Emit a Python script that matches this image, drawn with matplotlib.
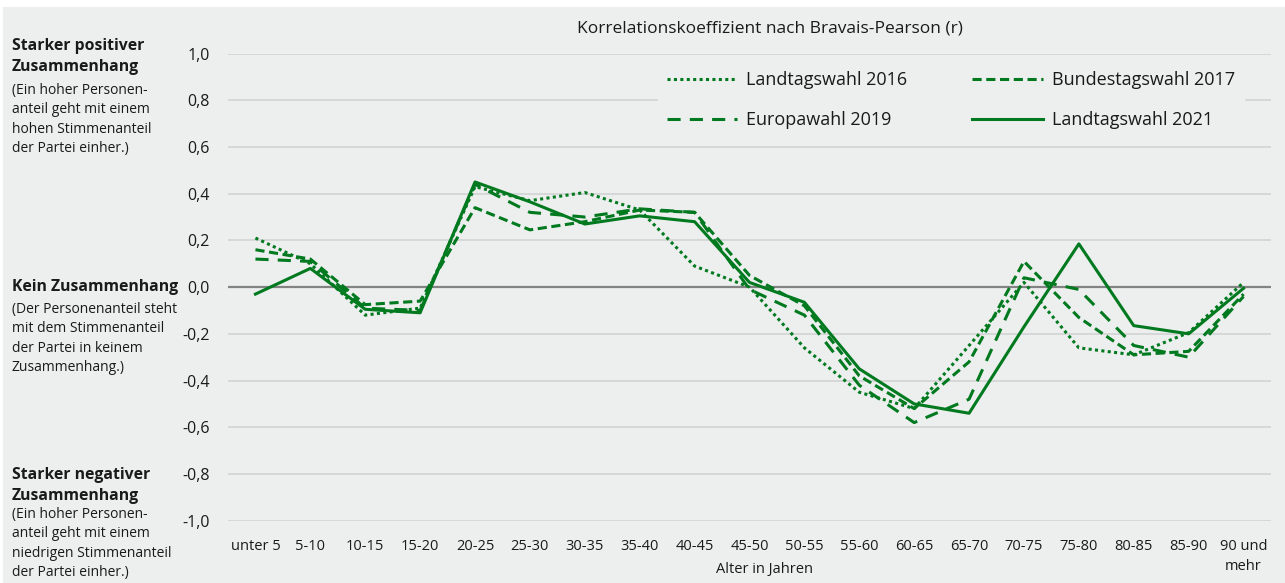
import matplotlib.pyplot as plt
from matplotlib.patches import Rectangle

# age groups on the x axis
age_groups = ["unter 5", "5-10", "10-15", "15-20", "20-25", "25-30", "30-35", "35-40",
              "40-45", "45-50", "50-55", "55-60", "60-65", "65-70", "70-75", "75-80",
              "80-85", "85-90", "90 und\nmehr"]

# correlation coefficients (Bravais-Pearson r) per election
ltw_2016 = [0.21, 0.10, -0.12, -0.09, 0.43, 0.37, 0.405, 0.33, 0.09, 0.00,
            -0.26, -0.45, -0.52, -0.25, 0.02, -0.26, -0.29, -0.195, 0.02]
btw_2017 = [0.16, 0.12, -0.075, -0.06, 0.34, 0.245, 0.28, 0.33, 0.32, 0.05,
            -0.08, -0.38, -0.52, -0.32, 0.11, -0.13, -0.29, -0.275, -0.03]
euw_2019 = [0.12, 0.11, -0.09, -0.10, 0.44, 0.32, 0.30, 0.335, 0.32, -0.01,
            -0.12, -0.42, -0.58, -0.48, 0.04, -0.01, -0.25, -0.30, -0.04]
ltw_2021 = [-0.03, 0.08, -0.095, -0.11, 0.45, 0.365, 0.27, 0.305, 0.28, 0.02,
            -0.065, -0.35, -0.50, -0.54, -0.17, 0.185, -0.165, -0.20, -0.005]

y_ticks = [-1.0, -0.8, -0.6, -0.4, -0.2, 0.0, 0.2, 0.4, 0.6, 0.8, 1.0]

W, H = 1285, 583
bg = "#edefee"
green = "#00791f"

plt.rcParams["font.family"] = ["Open Sans", "DejaVu Sans"]
plt.rcParams["text.color"] = "#1a1a1a"

fig = plt.figure(figsize=(W / 100, H / 100), dpi=100)
fig.patch.set_facecolor("white")
fig.patches.append(Rectangle((3 / W, 0), 1, 1 - 7 / H, transform=fig.transFigure,
                             facecolor=bg, edgecolor="none", zorder=-10))

ax = fig.add_axes([228 / W, (H - 520.7) / H, 1043 / W, 467.2 / H])
ax.patch.set_alpha(0)

x = list(range(len(age_groups)))
lw = 2.2
l16, = ax.plot(x, ltw_2016, color=green, lw=lw, linestyle=(0, (1, 1.1)), label="Landtagswahl 2016")
l17, = ax.plot(x, btw_2017, color=green, lw=lw, linestyle=(0, (3, 1.5)), label="Bundestagswahl 2017")
l19, = ax.plot(x, euw_2019, color=green, lw=lw, linestyle=(0, (4.3, 3)), label="Europawahl 2019")
l21, = ax.plot(x, ltw_2021, color=green, lw=lw, linestyle="-", label="Landtagswahl 2021")

ax.set_xlim(-0.5, len(age_groups) - 0.5)
ax.set_ylim(-1.0, 1.0)
ax.set_xticks(x)
ax.set_xticklabels(age_groups, fontsize=10.5, linespacing=1.5)
ax.set_yticks(y_ticks)
ax.set_yticklabels([f"{v:.1f}".replace(".", ",") for v in y_ticks], fontsize=11.5)
ax.tick_params(axis="both", length=0, colors="#1a1a1a")
ax.tick_params(axis="y", pad=13)
ax.tick_params(axis="x", pad=13)
for s in ax.spines.values():
    s.set_visible(False)

# horizontal grid, zero line darker
for v in y_ticks:
    if v == 0:
        ax.axhline(v, color="#838383", lw=1.6, zorder=1)
    else:
        ax.axhline(v, color="#d4d6d5", lw=1.3, zorder=0)

ax.set_title("Korrelationskoeffizient nach Bravais-Pearson (r)", fontsize=12.5, pad=15, x=0.52)

# row-wise order: column fill needs 2016, 2019, 2017, 2021
handles = [l16, l19, l17, l21]
leg = ax.legend(handles, [h.get_label() for h in handles], ncol=2, loc="center",
                bbox_to_anchor=(0.693, 0.9), fontsize=13,
                handlelength=3.9, handletextpad=0.5, columnspacing=3.6, labelspacing=1.22,
                frameon=True, fancybox=False, borderpad=0.5)
leg.get_frame().set_facecolor(bg)
leg.get_frame().set_edgecolor(bg)
leg.get_frame().set_alpha(1)


def fig_text(px, py, s, **kw):
    fig.text(px / W, 1 - py / H, s, **kw)


fig_text(765, 570, "Alter in Jahren", fontsize=10.5, ha="center", va="center")

# explanations left of the axis
fig_text(12, 38, "Starker positiver\nZusammenhang", fontsize=11.3, fontweight="bold",
         va="top", linespacing=1.4)
fig_text(12, 83, "(Ein hoher Personen-\nanteil geht mit einem\nhohen Stimmenanteil\nder Partei einher.)",
         fontsize=10, va="top", linespacing=1.4)

fig_text(12, 287, "Kein Zusammenhang", fontsize=11.3, fontweight="bold", va="center")
fig_text(12, 302, "(Der Personenanteil steht\nmit dem Stimmenanteil\nder Partei in keinem\nZusammenhang.)",
         fontsize=10, va="top", linespacing=1.4)

fig_text(12, 467, "Starker negativer\nZusammenhang", fontsize=11.3, fontweight="bold",
         va="top", linespacing=1.4)
fig_text(12, 507, "(Ein hoher Personen-\nanteil geht mit einem\nniedrigen Stimmenanteil\nder Partei einher.)",
         fontsize=10, va="top", linespacing=1.4)

fig.savefig("out.png", dpi=100, facecolor=fig.get_facecolor())
